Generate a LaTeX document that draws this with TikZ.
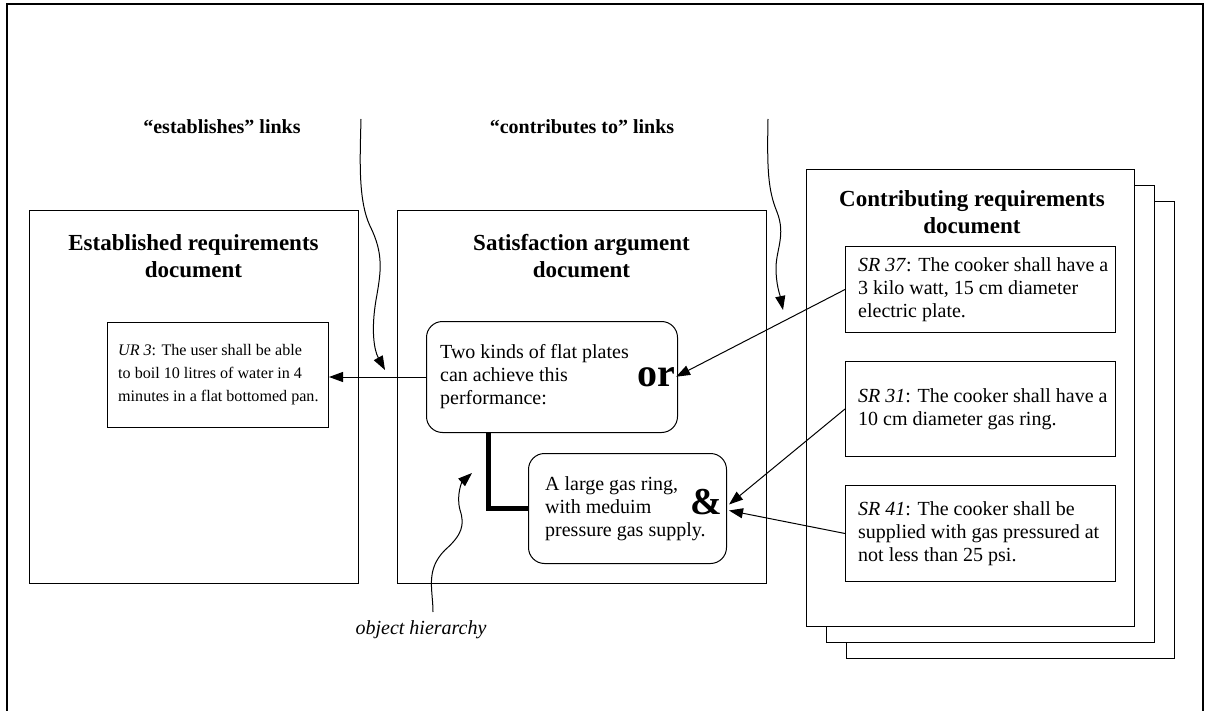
\documentclass[tikz,border=0pt]{standalone}
\usepackage{fontspec}
\setmainfont{Liberation Serif}
\usetikzlibrary{arrows.meta}
\begin{document}
\begin{tikzpicture}[x=1pt,y=-1pt,
  frame/.style={line width=2.4pt},
  box/.style={draw, line width=1pt, fill=white, inner sep=0pt, anchor=north west},
  rbox/.style={box, rounded corners=16pt},
  body/.style={inner sep=0pt, align=left, font=\fontsize{20}{23}\selectfont},
  small/.style={inner sep=0pt, align=left, font=\fontsize{16.1}{23}\selectfont},
  title/.style={inner sep=0pt, align=center, font=\fontsize{23}{27}\selectfont\bfseries},
  toplabel/.style={inner sep=0pt, font=\fontsize{20}{24}\selectfont\bfseries},
  big/.style={inner sep=1pt, font=\fontsize{40}{44}\selectfont\bfseries},
  link/.style={line width=1pt, -{Triangle[length=14pt,width=10pt]}},
  wavy/.style={line width=1pt, -{Triangle[length=14pt,width=10pt]}},
  hier/.style={line width=5pt}
]
\useasboundingbox (0,0) rectangle (1207,711);
% outer frame, open at the bottom
\draw[frame] (7,711) -- (7,4) -- (1203,4) -- (1203,711);

% top labels
\node[toplabel] (lest) at (222,127) {``establishes'' links};
\node[toplabel] (lcon) at (582,127) {``contributes to'' links};

% established requirements document
\node[box, minimum width=329, minimum height=373] (est) at (29,210) {};
\node[title] (estT) at (193.5,256.5) {Established requirements\\document};
\node[box, minimum width=221, minimum height=105] (ur3) at (107,322) {};
\node[small, anchor=west] (ur3T) at ([xshift=11pt]ur3.west) {\textit{UR 3}: The user shall be able\\to boil 10 litres of water in 4\\minutes in a flat bottomed pan.};

% satisfaction argument document
\node[box, minimum width=369, minimum height=373] (sat) at (397,210) {};
\node[title] (satT) at (581.5,256.5) {Satisfaction argument\\document};
\node[rbox, minimum width=251, minimum height=111] (rb1) at (426,321) {};
\node[body, anchor=west] (rb1T) at ([xshift=14pt]rb1.west) {Two kinds of flat plates\\can achieve this\\performance:};
\node[big, anchor=base] (orN) at (656,386) {or};
\node[rbox, minimum width=198, minimum height=110] (rb2) at (528,453) {};
\node[body, anchor=west] (rb2T) at ([xshift=17pt]rb2.west) {A large gas ring,\\with meduim\\pressure gas supply.};
\node[big, anchor=base, font=\fontsize{38}{42}\selectfont\bfseries] (andN) at (706,514) {\&};

% object hierarchy
\coordinate (hb) at (488,432);
\draw[hier] (rb1.south -| hb) |- (rb2.west);
\node[inner sep=0pt, font=\fontsize{20}{23}\selectfont\itshape] (ohT) at (421,630) {object hierarchy};

% contributing requirements document stack
\node[box, minimum width=328, minimum height=457] (cr3) at (846,201) {};
\node[box, minimum width=328, minimum height=457] (cr2) at (826,185) {};
\node[box, minimum width=328, minimum height=457] (cr1) at (806,169) {};
\node[title] (crT) at (972,212) {Contributing requirements\\document};
\node[box, minimum width=270, minimum height=86] (sr37) at (845,246) {};
\node[body, anchor=west] (sr37T) at ([xshift=13pt]sr37.west) {\textit{SR 37}: The cooker shall have a\\3 kilo watt, 15 cm diameter\\electric plate.};
\node[box, minimum width=270, minimum height=95] (sr31) at (845,361) {};
\node[body, anchor=west] (sr31T) at ([xshift=13pt]sr31.west) {\textit{SR 31}: The cooker shall have a\\10 cm diameter gas ring.};
\node[box, minimum width=270, minimum height=96] (sr41) at (845,485) {};
\node[body, anchor=west] (sr41T) at ([xshift=13pt]sr41.west) {\textit{SR 41}: The cooker shall be\\supplied with gas pressured at\\not less than 25 psi.};

% links
\draw[link] (rb1.west) -- (ur3.east |- rb1.west);
\draw[link] (sr37.west) -- (orN.east);
\draw[link] (sr31.west) -- ([xshift=2pt,yshift=4pt]rb2.east);
\draw[link] (sr41.west) -- ([xshift=2pt,yshift=-2pt]rb2.east);

% wavy pointer arrows
\coordinate (w1s) at (361,119);
\coordinate (w1e) at (385,370);
\draw[wavy] (w1s) .. controls (360,160) and (358,200) .. (370,226)
  .. controls (384,254) and (381,272) .. (376,300)
  .. controls (371,330) and (374,350) .. (w1e);
\coordinate (w2s) at (768,119);
\coordinate (w2e) at (783,310);
\draw[wavy] (w2s) .. controls (767,170) and (768,190) .. (777,212)
  .. controls (786,235) and (776,250) .. (776,268)
  .. controls (776,285) and (780,295) .. (w2e);
\coordinate (w3s) at (433,612);
\coordinate (w3e) at (472,473);
\draw[wavy] (w3s) .. controls (433,590) and (425,570) .. (445,550)
  .. controls (462,535) and (465,525) .. (460,510)
  .. controls (456,495) and (462,482) .. (w3e);
\end{tikzpicture}
\end{document}
